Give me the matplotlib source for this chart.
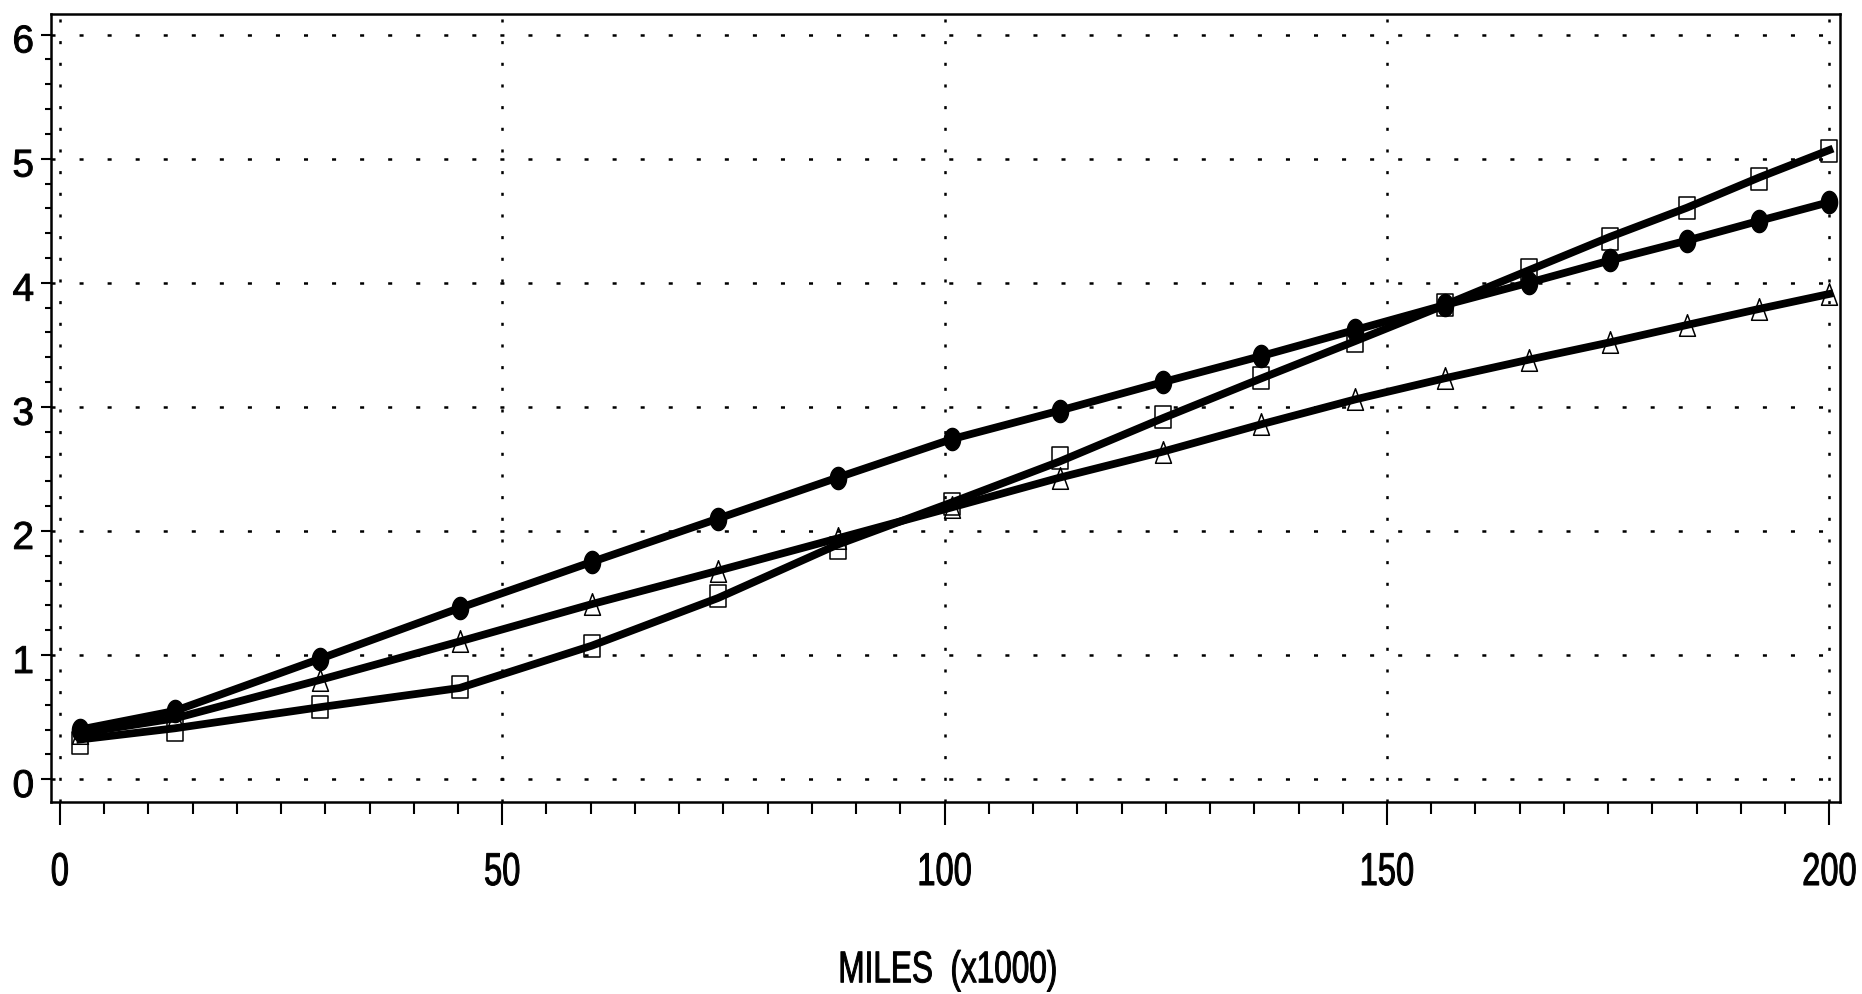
import numpy as np
import matplotlib
matplotlib.use("Agg")
import matplotlib.pyplot as plt
from matplotlib.path import Path
from matplotlib import font_manager as fm
from matplotlib.ticker import MultipleLocator
from matplotlib.patheffects import AbstractPathEffect
from matplotlib.transforms import Affine2D

# ---------------- data ----------------
miles = [2.3, 13.0, 29.4, 45.2, 60.1, 74.4, 87.9, 100.8, 113.0, 124.7,
         135.8, 146.4, 156.5, 166.0, 175.2, 183.9, 192.1, 200.0]
circle_vals = [0.40, 0.55, 0.97, 1.38, 1.75, 2.10, 2.43, 2.74, 2.97, 3.20,
               3.41, 3.62, 3.82, 4.00, 4.18, 4.34, 4.50, 4.65]
square_vals = [0.29, 0.40, 0.58, 0.74, 1.07, 1.48, 1.86, 2.22, 2.59, 2.92,
               3.23, 3.53, 3.82, 4.10, 4.35, 4.60, 4.84, 5.06]
square_line = [0.32, 0.41, 0.58, 0.735, 1.075, 1.46, 1.89, 2.23, 2.56, 2.91,
               3.23, 3.53, 3.82, 4.10, 4.37, 4.605, 4.85, 5.07]
triangle_vals = [0.37, 0.49, 0.80, 1.11, 1.41, 1.68, 1.94, 2.19, 2.43, 2.64,
                 2.86, 3.06, 3.23, 3.38, 3.52, 3.66, 3.79, 3.91]
x_ticks = [0, 50, 100, 150, 200]
y_ticks = [0, 1, 2, 3, 4, 5, 6]
x_label = "MILES  (x1000)"

# ---------------- fonts ----------------
names = {f.name for f in fm.fontManager.ttflist}
fam = [n for n in ["Liberation Sans", "DejaVu Sans"] if n in names]
plt.rcParams['font.family'] = fam
plt.rcParams['lines.scale_dashes'] = False


class Stretch(AbstractPathEffect):
    """Draw text stretched vertically about its baseline, slightly emboldened."""
    def __init__(self, sy=1.0, stroke=0.0, offset=(0, 0)):
        super().__init__(offset)
        self.sy = sy
        self.stroke = stroke

    def draw_path(self, renderer, gc, tpath, affine, rgbFace=None):
        t = Affine2D().scale(1.0, self.sy) + affine + self._offset_transform(renderer)
        renderer.draw_path(gc, tpath, t, rgbFace)
        if self.stroke > 0 and rgbFace is not None:
            gc0 = renderer.new_gc()
            gc0.copy_properties(gc)
            gc0.set_linewidth(self.stroke)
            gc0.set_foreground(rgbFace)
            renderer.draw_path(gc0, tpath, t, None)
            gc0.restore()


# ---------------- markers (vertically stretched) ----------------
t = np.linspace(0, 2 * np.pi, 60)
ellipse = Path(np.column_stack([0.365 * np.cos(t), 0.5 * np.sin(t)]), closed=True)
rect = Path([(-0.36, -0.5), (0.36, -0.5), (0.36, 0.5), (-0.36, 0.5), (-0.36, -0.5)], closed=True)
tri = Path([(0, 0.5), (-0.37, -0.5), (0.37, -0.5), (0, 0.5)], closed=True)

fig = plt.figure(figsize=(18.62, 9.95), dpi=100)
ax = fig.add_axes([51 / 1862, 1 - 803 / 995, (1840 - 51) / 1862, (803 - 15) / 995])

ax.set_xlim(-1.0, 201.2)
ax.set_ylim(-0.184, 6.166)

# grid (dotted)
for xv in x_ticks:
    ax.axvline(xv, color='black', lw=1.8, dashes=(2.2, 13.4), zorder=1)
for yv in y_ticks:
    ax.axhline(yv, color='black', lw=1.8, dashes=(2.9, 17.3), zorder=1)

lw = 5.6
ax.plot(miles, circle_vals, color='black', lw=lw, zorder=3)
ax.plot(miles, circle_vals, ls='none', marker=ellipse, ms=16, mfc='black', mec='black', zorder=4)

ax.plot(miles, square_line, color='black', lw=lw, zorder=3)
ax.plot(miles, square_vals, ls='none', marker=rect, ms=16.3, mfc='none', mec='black', mew=1.1, zorder=4)

ax.plot(miles, triangle_vals, color='black', lw=lw, zorder=3)
ax.plot(miles, triangle_vals, ls='none', marker=tri, ms=15.5, mfc='none', mec='black', mew=1.1, zorder=4)

# axes styling
for s in ax.spines.values():
    s.set_linewidth(1.8)
ax.set_xticks(x_ticks)
ax.set_yticks(y_ticks)
ax.xaxis.set_minor_locator(MultipleLocator(5))
ax.yaxis.set_minor_locator(MultipleLocator(0.2))
ax.tick_params(axis='x', which='major', direction='out', length=16.5, width=1.5,
               labelsize=23.5, pad=26)
ax.tick_params(axis='x', which='minor', direction='out', length=8.6, width=1.5)
ax.tick_params(axis='y', which='major', direction='out', length=7.2, width=1.5,
               labelsize=27.9, pad=5)
ax.tick_params(axis='y', which='minor', direction='out', length=4.3, width=1.5)
ax.tick_params(top=False, right=False, which='both')

for tk in ax.xaxis.get_major_ticks():
    tk.label1.set_path_effects([Stretch(sy=1.41, stroke=0.7)])
for tk in ax.yaxis.get_major_ticks():
    tk.label1.set_path_effects([Stretch(sy=1.0, stroke=0.7, offset=(0, -2.8))])

xl = ax.set_xlabel(x_label, fontsize=22.7, va='baseline')
xl.set_path_effects([Stretch(sy=1.41, stroke=0.7)])
ax.xaxis.set_label_coords(0.5014, -0.2288)

fig.savefig("out.png", dpi=100)
